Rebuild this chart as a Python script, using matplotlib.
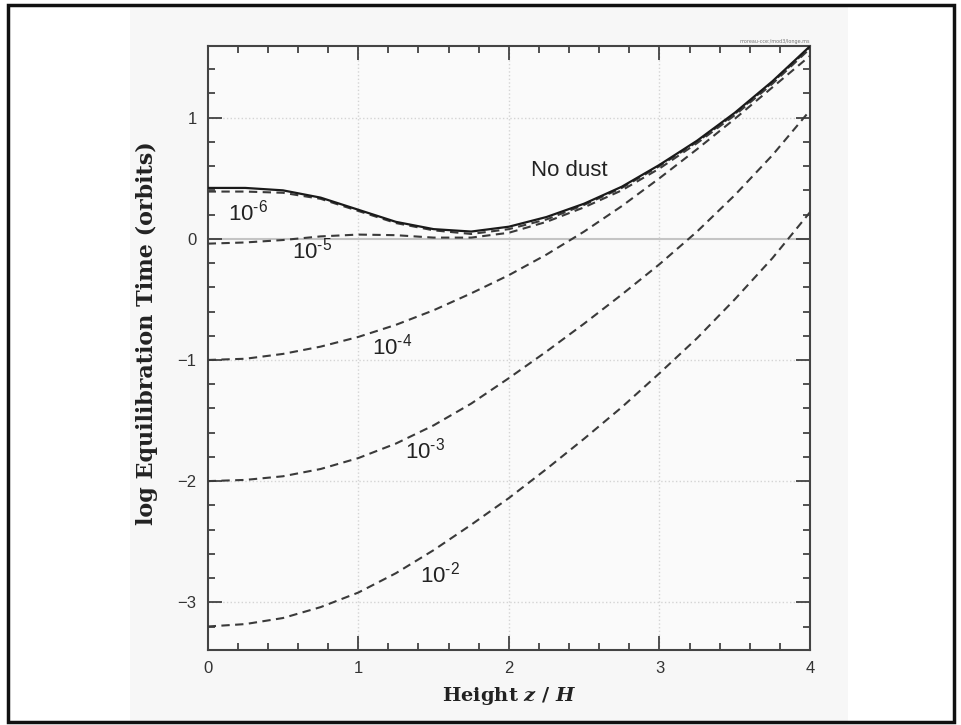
import numpy as np
import matplotlib
matplotlib.use('Agg')
import matplotlib.pyplot as plt
from matplotlib.patches import Rectangle
from matplotlib.ticker import MultipleLocator

# Данные
z = [0, 0.25, 0.5, 0.75, 1.0, 1.25, 1.5, 1.75, 2.0, 2.25, 2.5, 2.75, 3.0, 3.25, 3.5, 3.75, 4.0]
no_dust = [0.42, 0.42, 0.40, 0.34, 0.24, 0.14, 0.08, 0.06, 0.10, 0.18, 0.29, 0.43, 0.61, 0.81, 1.04, 1.30, 1.59]
dust_1e6 = [0.39, 0.39, 0.38, 0.33, 0.23, 0.13, 0.07, 0.04, 0.08, 0.16, 0.28, 0.42, 0.60, 0.80, 1.03, 1.29, 1.58]
dust_1e5 = [-0.04, -0.03, -0.01, 0.02, 0.035, 0.03, 0.01, 0.01, 0.05, 0.14, 0.26, 0.40, 0.58, 0.79, 1.02, 1.28, 1.57]
dust_1e4 = [-1.00, -0.99, -0.95, -0.89, -0.81, -0.71, -0.59, -0.45, -0.30, -0.13, 0.06, 0.27, 0.50, 0.74, 0.99, 1.25, 1.51]
dust_1e3 = [-2.00, -1.99, -1.96, -1.90, -1.81, -1.69, -1.54, -1.36, -1.15, -0.93, -0.70, -0.46, -0.21, 0.06, 0.36, 0.69, 1.06]
dust_1e2 = [-3.20, -3.18, -3.13, -3.04, -2.92, -2.76, -2.57, -2.36, -2.14, -1.90, -1.65, -1.39, -1.11, -0.82, -0.50, -0.16, 0.22]

dashed = [dust_1e6, dust_1e5, dust_1e4, dust_1e3, dust_1e2]
labels = ['10$^{\\text{-6}}$', '10$^{\\text{-5}}$', '10$^{\\text{-4}}$', '10$^{\\text{-3}}$', '10$^{\\text{-2}}$']
label_pos = [(0.135, 0.22), (0.56, -0.10), (1.09, -0.89), (1.31, -1.75), (1.41, -2.77)]

plt.rcParams['mathtext.fontset'] = 'custom'
plt.rcParams['mathtext.rm'] = 'Liberation Sans'
plt.rcParams['mathtext.it'] = 'DejaVu Serif:italic:bold'

fig = plt.figure(figsize=(9.61, 7.25), dpi=100)
fig.patch.set_facecolor('white')

# серая подложка и рамка
fig.add_artist(Rectangle((130 / 961, 0.004), 718 / 961, 0.99, transform=fig.transFigure,
                         facecolor='#f7f7f7', edgecolor='none', zorder=0))
fig.add_artist(Rectangle((8 / 961, 3 / 725), 946 / 961, 717 / 725, transform=fig.transFigure,
                         facecolor='none', edgecolor='#111111', lw=2.5, zorder=5))

ax = fig.add_axes([0.2161, 0.1041, 0.6268, 0.8322])
ax.set_facecolor('#fafafa')

ax.plot(z, no_dust, color='#1a1a1a', lw=1.6, zorder=4)
for vals in dashed:
    ax.plot(z, vals, color='#3a3a3a', lw=1.5, dashes=(4, 2.6), zorder=3)

for text, (x, y) in zip(labels, label_pos):
    ax.text(x, y, text, fontsize=16, family='Liberation Sans', color='#222222',
            va='center', math_fontfamily='custom')
ax.text(2.145, 0.565, 'No dust', fontsize=16, family='Liberation Sans', color='#222222', va='center')

ax.axhline(0, color='#c4c4c4', lw=1.5, zorder=1)
for y in [-3, -2, -1, 1]:
    ax.axhline(y, color='#d4d4d4', lw=1, ls=':', zorder=1)
for x in [1, 2, 3]:
    ax.axvline(x, color='#d4d4d4', lw=1, ls=':', zorder=1)

ax.set_xlim(0, 4)
ax.set_ylim(-3.39, 1.59)
ax.xaxis.set_major_locator(MultipleLocator(1))
ax.xaxis.set_minor_locator(MultipleLocator(0.2))
ax.yaxis.set_major_locator(MultipleLocator(1))
ax.yaxis.set_minor_locator(MultipleLocator(0.2))
ax.tick_params(which='both', direction='in', top=True, right=True, colors='#333333',
               width=1.2, labelsize=12, labelcolor='#333333')
ax.tick_params(which='major', length=10, pad=8)
ax.tick_params(which='minor', length=5)
for lab in ax.get_xticklabels() + ax.get_yticklabels():
    lab.set_family('Liberation Sans')
for s in ax.spines.values():
    s.set_color('#444444')
    s.set_linewidth(1.5)

ax.set_xlabel('Height $z$ / $H$', fontsize=14, family='DejaVu Serif', fontweight='bold',
              color='#222222', math_fontfamily='custom', labelpad=7)
ax.set_ylabel('log Equilibration Time (orbits)', fontsize=16, family='DejaVu Serif',
              fontweight='bold', color='#222222')
ax.yaxis.set_label_coords(-0.0825, 0.525)

ax.text(1.0, 1.004, 'moreau-cce:/mod3/longe.ms', transform=ax.transAxes, fontsize=3.5,
        color='#777777', ha='right', va='bottom')

plt.savefig('out.png', dpi=100)
plt.close()
